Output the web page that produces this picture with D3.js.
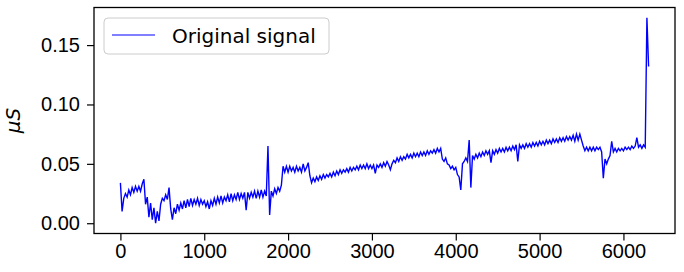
<!DOCTYPE html>
<html>
<head>
<meta charset="utf-8">
<script src="https://cdnjs.cloudflare.com/ajax/libs/d3/7.8.5/d3.min.js"></script>
<style>
  body { margin: 0; background: #fff; }
  svg { display: block; font-family: "DejaVu Sans", sans-serif; }
  .axis text { font-size: 20px; fill: #000; }
  .axis path, .axis line { stroke: #000; stroke-width: 1.2px; }
</style>
</head>
<body>
<div id="chart"></div>
<script>
// sample spacing of the recorded signal
var sampleStep = 20;

// signal values, one every sampleStep samples (rows of 10 = 200 samples)
var signal = [
    0.034, 0.010, 0.021, 0.025, 0.022, 0.028, 0.024, 0.030, 0.026, 0.031,
    0.027, 0.031, 0.027, 0.033, 0.037, 0.016, 0.022, 0.005, 0.017, 0.003,
    0.013, 0.000, 0.010, 0.002, 0.016, 0.021, 0.019, 0.024, 0.020, 0.030,
    0.012, 0.003, 0.013, 0.008, 0.016, 0.011, 0.017, 0.012, 0.019, 0.013,
    0.020, 0.014, 0.021, 0.015, 0.020, 0.016, 0.021, 0.015, 0.020, 0.016,
    0.019, 0.014, 0.018, 0.012, 0.019, 0.015, 0.021, 0.016, 0.022, 0.017,
    0.023, 0.017, 0.022, 0.019, 0.024, 0.018, 0.025, 0.019, 0.024, 0.020,
    0.026, 0.020, 0.025, 0.021, 0.026, 0.011, 0.026, 0.021, 0.026, 0.022,
    0.027, 0.021, 0.027, 0.022, 0.028, 0.022, 0.027, 0.023, 0.065, 0.007,
    0.027, 0.023, 0.029, 0.025, 0.030, 0.027, 0.032, 0.048, 0.043, 0.048,
    0.043, 0.048, 0.044, 0.047, 0.043, 0.048, 0.044, 0.047, 0.043, 0.050,
    0.044, 0.047, 0.051, 0.040, 0.034, 0.038, 0.035, 0.039, 0.036, 0.040,
    0.037, 0.041, 0.038, 0.041, 0.039, 0.042, 0.039, 0.043, 0.040, 0.044,
    0.041, 0.045, 0.042, 0.045, 0.043, 0.046, 0.043, 0.047, 0.044, 0.047,
    0.045, 0.048, 0.045, 0.049, 0.046, 0.049, 0.046, 0.050, 0.046, 0.049,
    0.046, 0.049, 0.042, 0.049, 0.047, 0.050, 0.047, 0.051, 0.048, 0.052,
    0.049, 0.045, 0.050, 0.053, 0.051, 0.055, 0.052, 0.056, 0.053, 0.056,
    0.054, 0.058, 0.055, 0.058, 0.055, 0.059, 0.056, 0.059, 0.056, 0.060,
    0.057, 0.060, 0.057, 0.061, 0.058, 0.061, 0.059, 0.062, 0.059, 0.063,
    0.060, 0.063, 0.054, 0.052, 0.055, 0.050, 0.049, 0.046, 0.048, 0.045,
    0.047, 0.041, 0.039, 0.028, 0.050, 0.052, 0.055, 0.052, 0.070, 0.030,
    0.057, 0.054, 0.058, 0.055, 0.059, 0.056, 0.060, 0.057, 0.061, 0.058,
    0.061, 0.051, 0.061, 0.058, 0.062, 0.059, 0.063, 0.060, 0.063, 0.060,
    0.064, 0.061, 0.064, 0.061, 0.065, 0.062, 0.066, 0.052, 0.066, 0.063,
    0.066, 0.063, 0.067, 0.064, 0.067, 0.064, 0.068, 0.065, 0.068, 0.065,
    0.069, 0.066, 0.069, 0.066, 0.070, 0.067, 0.070, 0.067, 0.071, 0.068,
    0.071, 0.068, 0.072, 0.069, 0.072, 0.069, 0.073, 0.070, 0.073, 0.070,
    0.074, 0.069, 0.075, 0.070, 0.075, 0.070, 0.065, 0.061, 0.064, 0.061,
    0.064, 0.061, 0.064, 0.061, 0.064, 0.062, 0.064, 0.060, 0.038, 0.054,
    0.050, 0.054, 0.057, 0.069, 0.060, 0.063, 0.060, 0.063, 0.061, 0.063,
    0.061, 0.064, 0.062, 0.064, 0.062, 0.065, 0.063, 0.065, 0.072, 0.064,
    0.066, 0.063, 0.066, 0.064, 0.173, 0.132
];

var xTicks = [0, 1000, 2000, 3000, 4000, 5000, 6000];
var yTicks = [0.00, 0.05, 0.10, 0.15];
var seriesLabel = "Original signal";
var yLabel = "μS";

var data = signal.map(function(v, i) { return { t: i * sampleStep, v: v }; });

var margin = { top: 7.5, right: 9, bottom: 38.5, left: 94 };
var width = 684 - margin.left - margin.right,
    height = 272 - margin.top - margin.bottom;

var svg = d3.select("#chart").append("svg")
    .attr("width", 684)
    .attr("height", 272);

var g = svg.append("g")
    .attr("transform", "translate(" + margin.left + "," + margin.top + ")");

// matplotlib-like 5% margins on both axes
var xExt = d3.extent(data, function(d) { return d.t; });
var yExt = d3.extent(data, function(d) { return d.v; });
var xPad = (xExt[1] - xExt[0]) * 0.05,
    yPad = (yExt[1] - yExt[0]) * 0.05;

var x = d3.scaleLinear()
    .domain([xExt[0] - xPad, xExt[1] + xPad])
    .range([0, width]);

var y = d3.scaleLinear()
    .domain([yExt[0] - yPad, yExt[1] + yPad])
    .range([height, 0]);

// signal line
var line = d3.line()
    .x(function(d) { return x(d.t); })
    .y(function(d) { return y(d.v); });

g.append("path")
    .datum(data)
    .attr("fill", "none")
    .attr("stroke", "#0000ff")
    .attr("stroke-width", 1.4)
    .attr("d", line);

// axes
g.append("g")
    .attr("class", "axis")
    .attr("transform", "translate(0," + height + ")")
    .call(d3.axisBottom(x).tickValues(xTicks).tickSizeInner(7).tickSizeOuter(0).tickPadding(3)
        .tickFormat(d3.format("d")));

g.append("g")
    .attr("class", "axis")
    .call(d3.axisLeft(y).tickValues(yTicks).tickSizeInner(7).tickSizeOuter(0).tickPadding(7)
        .tickFormat(d3.format(".2f")));

g.selectAll(".axis .domain").remove();

// frame
g.append("rect")
    .attr("width", width)
    .attr("height", height)
    .attr("fill", "none")
    .attr("stroke", "#000")
    .attr("stroke-width", 1.3);

// y label
svg.append("text")
    .attr("transform", "translate(20," + (margin.top + height / 2) + ") rotate(-90)")
    .attr("text-anchor", "middle")
    .style("font-size", "20px")
    .style("font-style", "italic")
    .text(yLabel);

// legend
var legend = g.append("g")
    .attr("transform", "translate(10,10.5)");

legend.append("rect")
    .attr("width", 225)
    .attr("height", 36)
    .attr("rx", 4)
    .attr("fill", "#fff")
    .attr("fill-opacity", 0.8)
    .attr("stroke", "#cccccc");

legend.append("line")
    .attr("x1", 8).attr("x2", 51)
    .attr("y1", 17).attr("y2", 17)
    .attr("stroke", "#0000ff")
    .attr("stroke-width", 1);

legend.append("text")
    .attr("x", 68)
    .attr("y", 24.5)
    .style("font-size", "20px")
    .text(seriesLabel);
</script>
</body>
</html>
